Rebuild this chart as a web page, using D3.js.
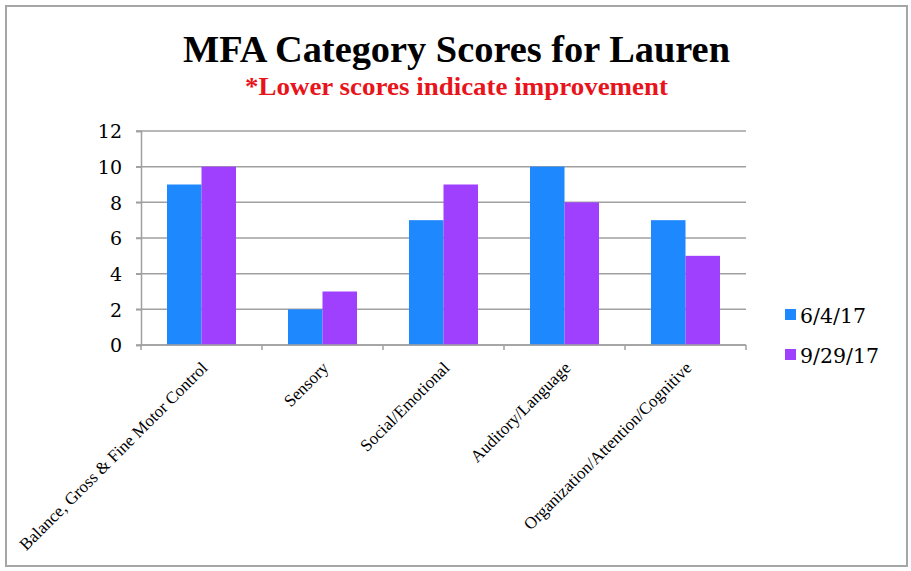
<!DOCTYPE html>
<html><head><meta charset="utf-8">
<script src="https://cdn.jsdelivr.net/npm/d3@7"></script>
<style>body{margin:0;background:#fff}svg{display:block}</style>
</head><body>
<svg id="c" width="911" height="571"></svg>
<script>
const categories = ["Balance, Gross & Fine Motor Control","Sensory","Social/Emotional","Auditory/Language","Organization/Attention/Cognitive"];
const seriesNames = ["6/4/17","9/29/17"];
const series1 = [9,2,7,10,7];
const series2 = [10,3,9,8,5];
const yTicks = [0,2,4,6,8,10,12];
const colors = ["#1e88ff","#a040ff"];

(function(){
const svg = d3.select("#c");
const font = "Liberation Serif, serif";
const numFont = "DejaVu Serif, serif";
svg.append("rect").attr("x",6).attr("y",6).attr("width",901).attr("height",560)
  .attr("fill","#fff").attr("stroke","#a6a6a6").attr("stroke-width",2);

const pL=141,pR=746,pT=131,pB=345;
const x = d3.scaleBand().domain(categories).range([pL,pR]).paddingInner(0).paddingOuter(0);
const y = d3.scaleLinear().domain([0,12]).range([pB,pT]);
const xs = d3.scaleBand().domain(seriesNames).range([0,x.bandwidth()]).paddingInner(0).paddingOuter(0.754);

// grid
svg.append("g").selectAll("line").data(yTicks).join("line")
  .attr("x1",pL-5).attr("x2",pR).attr("y1",d=>y(d)).attr("y2",d=>y(d))
  .attr("stroke","#a0a0a0").attr("stroke-width",1.5);

// bars
const data = categories.map((c,i)=>({c,vals:[series1[i],series2[i]]}));
const g = svg.append("g").selectAll("g").data(data).join("g")
  .attr("transform",d=>`translate(${x(d.c)},0)`);
g.selectAll("rect").data(d=>d.vals.map((v,j)=>({v,j}))).join("rect")
  .attr("x",d=>xs(seriesNames[d.j])).attr("width",xs.bandwidth())
  .attr("y",d=>y(d.v)).attr("height",d=>y(0)-y(d.v)).attr("fill",d=>colors[d.j]);

// y axis
const ya = svg.append("g").attr("transform",`translate(${pL},0)`)
  .call(d3.axisLeft(y).tickValues(yTicks).tickSize(5).tickPadding(14));
ya.attr("font-family",numFont).attr("font-size",19);
ya.select(".domain").attr("stroke","#a0a0a0").attr("stroke-width",1.5);
ya.selectAll(".tick line").attr("stroke","#a0a0a0").attr("stroke-width",1.5);
ya.selectAll("text").attr("fill","#000").attr("dy","0.36em");

// x axis
const xa = svg.append("g").attr("transform",`translate(0,${pB})`);
xa.append("line").attr("x1",pL).attr("x2",pR).attr("stroke","#a0a0a0").attr("stroke-width",1.5);
const bounds = categories.map(c=>x(c)).concat([x(categories[categories.length-1])+x.bandwidth()]);
xa.selectAll("line.t").data(bounds).join("line").attr("class","t")
  .attr("x1",d=>d).attr("x2",d=>d).attr("y1",0).attr("y2",5)
  .attr("stroke","#a0a0a0").attr("stroke-width",1.5);
xa.selectAll("text").data(categories).join("text")
  .attr("transform",d=>`translate(${x(d)+x.bandwidth()/2+7},${24}) rotate(-45)`)
  .attr("text-anchor","end").attr("font-family",font).attr("font-size",17).attr("fill","#000")
  .text(d=>d);

// title
svg.append("text").attr("x",456.5).attr("y",62).attr("text-anchor","middle")
  .attr("font-family",font).attr("font-weight","bold").attr("font-size",37)
  .attr("textLength",547).attr("lengthAdjust","spacingAndGlyphs").attr("fill","#000")
  .text("MFA Category Scores for Lauren");
svg.append("text").attr("x",456.5).attr("y",95).attr("text-anchor","middle")
  .attr("font-family",font).attr("font-weight","bold").attr("font-size",25.5)
  .attr("textLength",423).attr("lengthAdjust","spacingAndGlyphs").attr("fill","#e8141c")
  .text("*Lower scores indicate improvement");

// legend
const lg = svg.append("g").selectAll("g").data(seriesNames).join("g")
  .attr("transform",(d,i)=>`translate(785,${309+i*40})`);
lg.append("rect").attr("width",11).attr("height",11).attr("fill",(d,i)=>colors[i]);
lg.append("text").attr("x",15).attr("y",14).attr("font-family",numFont).attr("font-size",20.5)
  .attr("fill","#000").text(d=>d);
})();
</script>
</body></html>
